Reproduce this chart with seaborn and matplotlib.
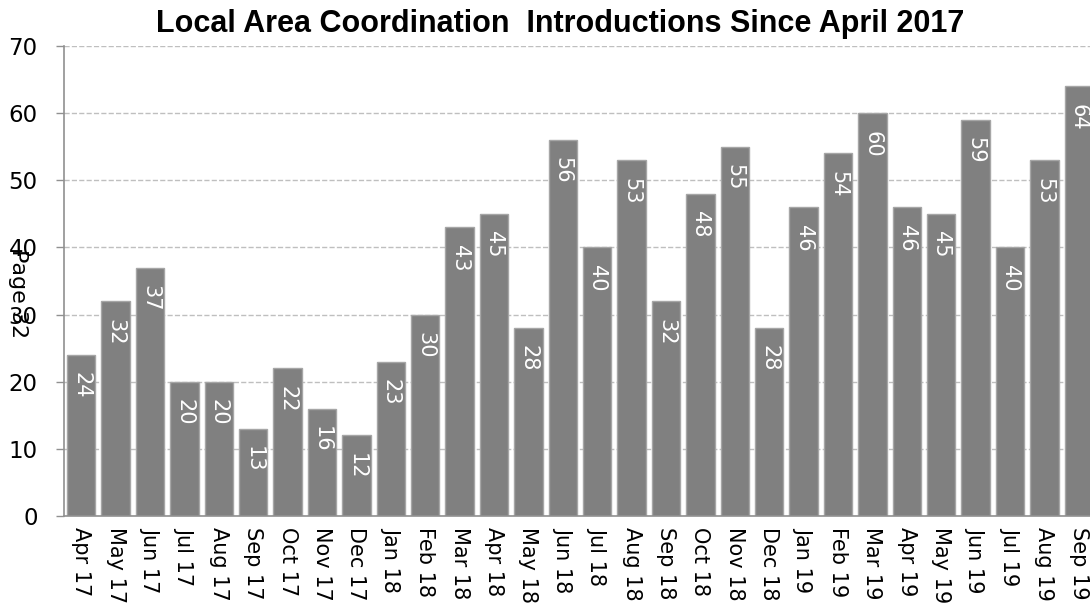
import matplotlib
matplotlib.use("Agg")
import matplotlib.pyplot as plt
import seaborn as sns
import numpy as np
import pandas as pd

months = ["Apr 17", "May 17", "Jun 17", "Jul 17", "Aug 17", "Sep 17", "Oct 17",
          "Nov 17", "Dec 17", "Jan 18", "Feb 18", "Mar 18", "Apr 18", "May 18",
          "Jun 18", "Jul 18", "Aug 18", "Sep 18", "Oct 18", "Nov 18", "Dec 18",
          "Jan 19", "Feb 19", "Mar 19", "Apr 19", "May 19", "Jun 19", "Jul 19",
          "Aug 19", "Sep 19"]
introductions = [24, 32, 37, 20, 20, 13, 22, 16, 12, 23, 30, 43, 45, 28, 56,
                 40, 53, 32, 48, 55, 28, 46, 54, 60, 46, 45, 59, 40, 53, 64]
y_ticks = [0, 10, 20, 30, 40, 50, 60, 70]

sns.set_theme(style="white")
plt.rcParams["font.family"] = ["DejaVu Sans"]
plt.rcParams["text.color"] = "black"
plt.rcParams["xtick.color"] = "black"
plt.rcParams["ytick.color"] = "black"

df = pd.DataFrame({"month": months, "count": introductions})

fig = plt.figure(figsize=(10.9, 6.11), dpi=100)
W, H = 1090, 611
ax = fig.add_axes([64 / W, 1 - 516 / H, 1032 / W, 470 / H])

sns.barplot(data=df, x="month", y="count", color="#808080", saturation=1,
            width=0.82, edgecolor="#a6a6a6", linewidth=1, ax=ax, zorder=2)

ax.set_ylim(0, 70)
ax.set_xlim(-0.5, len(months) - 0.5)
ax.set_yticks(y_ticks)
ax.set_yticklabels([str(v) for v in y_ticks], fontsize=16.5)
ax.yaxis.grid(True, linestyle="--", color="#bfbfbf", linewidth=1, zorder=0)
ax.set_axisbelow(True)
ax.set_xlabel("")
ax.set_ylabel("")

ax.set_xticks(range(len(months)))
ax.set_xticklabels(months, rotation=-90, fontsize=15, va="top")
ax.tick_params(axis="x", length=0, pad=8, colors="black")
ax.set_xticks(np.arange(-0.5, len(months), 1), minor=True)
ax.tick_params(axis="x", which="minor", length=5, color="#909090", width=1)
ax.tick_params(axis="y", length=6, color="#909090", width=1, left=True, pad=13,
               labelcolor="black")

for side in ["top", "right"]:
    ax.spines[side].set_visible(False)
for side in ["left", "bottom"]:
    ax.spines[side].set_color("#909090")
    ax.spines[side].set_linewidth(1.2)

for i, v in enumerate(introductions):
    ax.text(i, v - 2.6, str(v), rotation=-90, ha="center", va="top",
            color="white", fontsize=15, zorder=3)

fig.text(560 / W, 1 - 24 / H, "Local Area Coordination  Introductions Since April 2017",
         ha="center", va="center", fontsize=22, fontweight="bold", color="black",
         family=["Liberation Sans Narrow", "Liberation Sans", "DejaVu Sans"])
fig.text(18 / W, 1 - 294 / H, "Page 32", rotation=-90, ha="center", va="center",
         fontsize=16, color="black")

fig.savefig("out.png", dpi=100)
